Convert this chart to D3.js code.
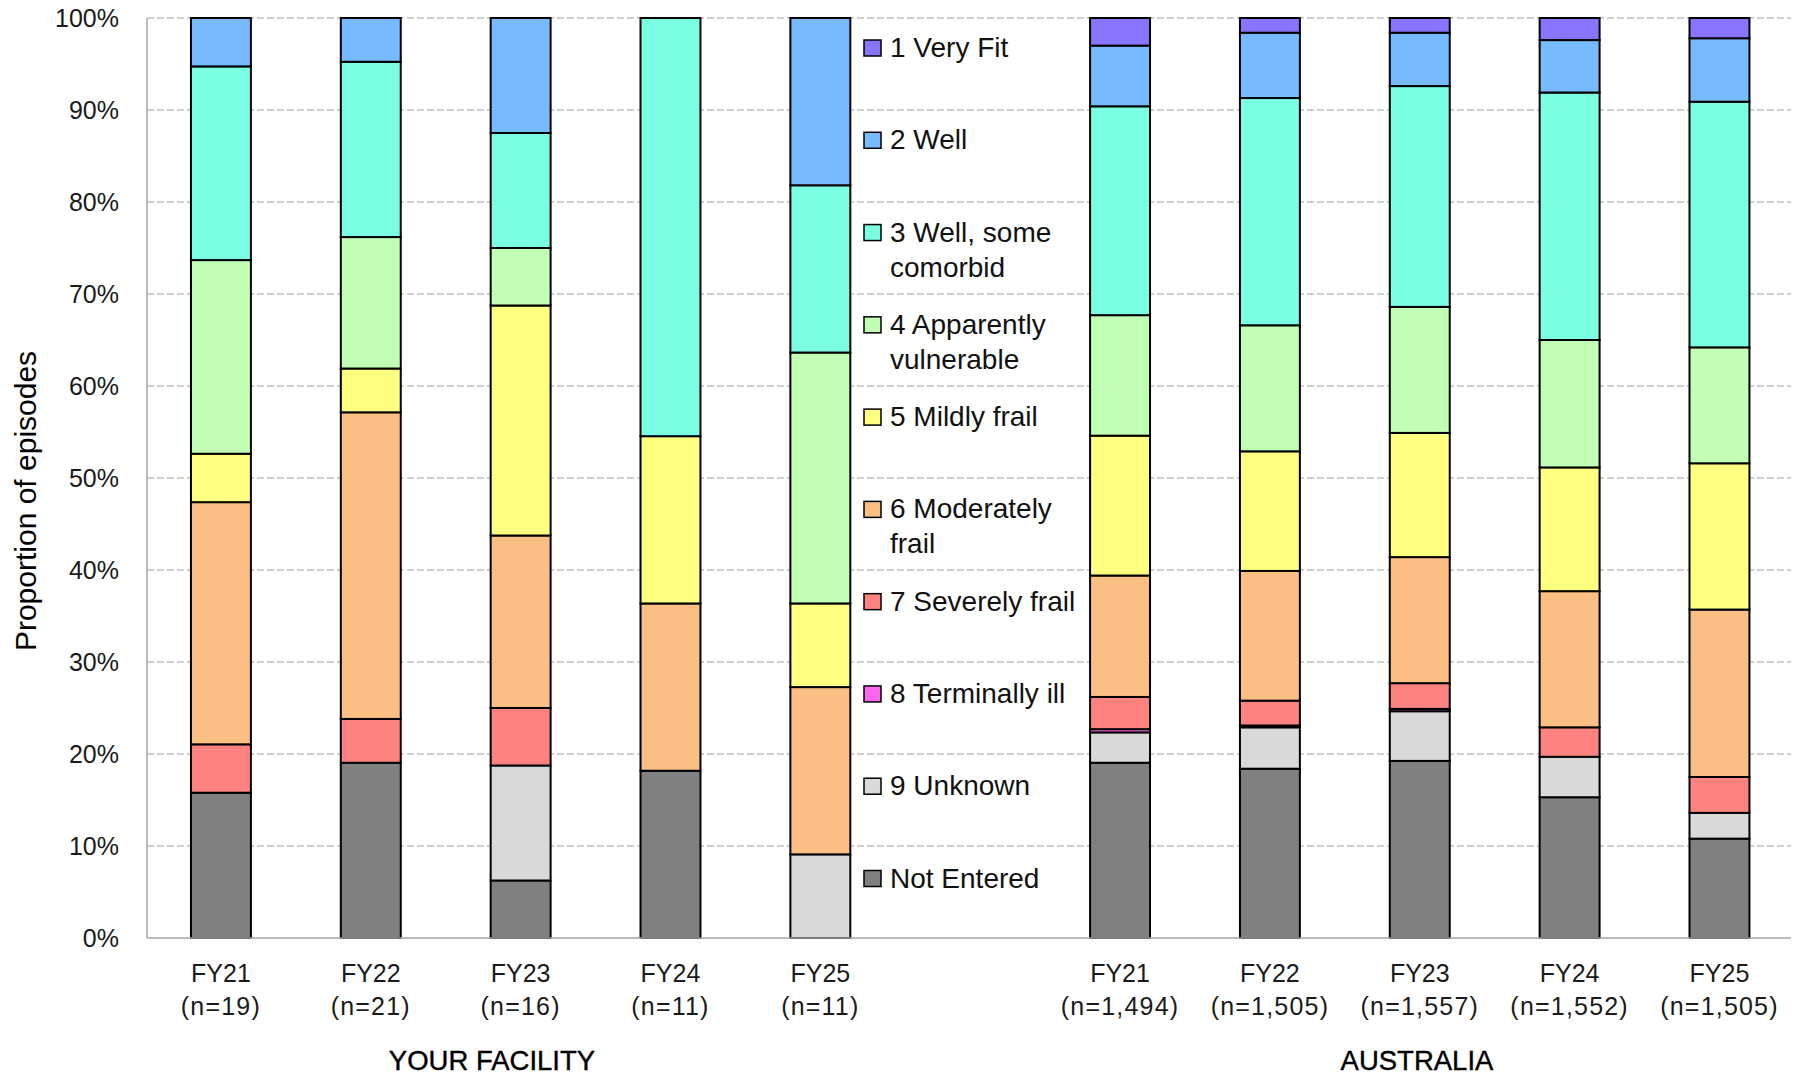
<!DOCTYPE html>
<html>
<head>
<meta charset="utf-8">
<script src="https://cdn.jsdelivr.net/npm/d3@7"></script>
<style>
  html, body { margin: 0; padding: 0; background: #fff; }
  svg { display: block; font-family: "Century Gothic", "Liberation Sans", Arial, sans-serif; }
</style>
</head>
<body>
<svg id="chart" width="1800" height="1077"></svg>
<script>
// ---------- DATA ----------
const categories = ["F-FY21", "F-FY22", "F-FY23", "F-FY24", "F-FY25", "gap",
                    "A-FY21", "A-FY22", "A-FY23", "A-FY24", "A-FY25"];
const yearLabels = ["FY21", "FY22", "FY23", "FY24", "FY25", "",
                    "FY21", "FY22", "FY23", "FY24", "FY25"];
const nLabels = ["(n=19)", "(n=21)", "(n=16)", "(n=11)", "(n=11)", "",
                 "(n=1,494)", "(n=1,505)", "(n=1,557)", "(n=1,552)", "(n=1,505)"];
const groupLabels = ["YOUR FACILITY", "AUSTRALIA"];

// series, bottom to top; values ordered as categories (gap = 0)
const seriesKeys = ["Not Entered", "9 Unknown", "8 Terminally ill", "7 Severely frail",
                    "6 Moderately frail", "5 Mildly frail", "4 Apparently vulnerable",
                    "3 Well, some comorbid", "2 Well", "1 Very Fit"];
const notEntered = [15.79, 19.05, 6.25, 18.18, 0,     0, 19.05, 18.4, 19.25, 15.3, 10.8];
const unknown    = [0,     0,     12.5, 0,     9.09,  0, 3.3,   4.5,  5.4,   4.4,  2.8];
const terminal   = [0,     0,     0,    0,     0,     0, 0.35,  0.2,  0.25,  0,    0];
const severe     = [5.26,  4.76,  6.25, 0,     0,     0, 3.5,   2.7,  2.8,   3.2,  3.9];
const moderate   = [26.32, 33.33, 18.75, 18.18, 18.18, 0, 13.2, 14.1, 13.7,  14.8, 18.2];
const mild       = [5.26,  4.76,  25,   18.18, 9.09,  0, 15.2,  13.0, 13.5,  13.45, 15.9];
const apparent   = [21.05, 14.29, 6.25, 0,     27.27, 0, 13.1,  13.7, 13.7,  13.85, 12.6];
const wellSome   = [21.05, 19.05, 12.5, 45.45, 18.18, 0, 22.7,  24.7, 24.0,  26.9, 26.7];
const well       = [5.26,  4.76,  12.5, 0,     18.18, 0, 6.6,   7.1,  5.8,   5.7,  6.9];
const veryFit    = [0,     0,     0,    0,     0,     0, 3.0,   1.6,  1.6,   2.4,  2.2];
const seriesValues = [notEntered, unknown, terminal, severe, moderate, mild, apparent, wellSome, well, veryFit];
const seriesColors = ["#808080", "#d9d9d9", "#ff66f0", "#fd8280", "#fbbf84",
                      "#ffff80", "#c1ffb4", "#7affe3", "#76baff", "#8875ff"];
const legendLines = [["1 Very Fit"], ["2 Well"], ["3 Well, some", "comorbid"],
                     ["4 Apparently", "vulnerable"], ["5 Mildly frail"],
                     ["6 Moderately", "frail"], ["7 Severely frail"],
                     ["8 Terminally ill"], ["9 Unknown"], ["Not Entered"]];
const legendColors = ["#8875ff", "#76baff", "#7affe3", "#c1ffb4", "#ffff80",
                      "#fbbf84", "#fd8280", "#ff66f0", "#d9d9d9", "#808080"];
const yTicks = [0, 0.1, 0.2, 0.3, 0.4, 0.5, 0.6, 0.7, 0.8, 0.9, 1.0];

// ---------- BUILD TABLE ----------
const table = categories.map((c, i) => {
  const row = { cat: c };
  seriesKeys.forEach((k, j) => { row[k] = seriesValues[j][i]; });
  return row;
});
const realRows = table.filter(r => r.cat !== "gap");

// ---------- LAYOUT ----------
const svg = d3.select("#chart");
const plotLeft = 147, plotRight = 1791, plotTop = 18, plotBottom = 938;

const x = d3.scaleBand().domain(categories).range([146, 1794.4])
  .paddingInner(0.6).paddingOuter(0.3);
const y = d3.scaleLinear().domain([0, 1]).range([plotBottom, plotTop]);

// gridlines
svg.append("g").selectAll("line").data(yTicks.filter(t => t > 0)).join("line")
  .attr("x1", plotLeft).attr("x2", plotRight)
  .attr("y1", d => y(d)).attr("y2", d => y(d))
  .attr("stroke", "#c0c0c0").attr("stroke-width", 1.4)
  .attr("stroke-dasharray", "7,3");

// y axis labels
const yAxis = d3.axisLeft(y).tickValues(yTicks).tickFormat(d3.format(".0%"))
  .tickSize(0).tickPadding(28);
const yg = svg.append("g").attr("transform", `translate(${plotLeft},0)`).call(yAxis);
yg.select(".domain").remove();
yg.selectAll("text").attr("font-size", 25).attr("fill", "#1a1a1a")
  .attr("font-family", "'Century Gothic','Liberation Sans',Arial,sans-serif")
  .attr("dy", "0.34em");

// axis lines
svg.append("line").attr("x1", plotLeft).attr("x2", plotLeft)
  .attr("y1", plotTop).attr("y2", plotBottom)
  .attr("stroke", "#a6a6a6").attr("stroke-width", 1.5);

// stacked bars
const stack = d3.stack().keys(seriesKeys).offset(d3.stackOffsetExpand);
const stacked = stack(realRows);
const layers = svg.append("g").selectAll("g").data(stacked).join("g")
  .attr("fill", (d, i) => seriesColors[i]);
layers.selectAll("rect").data(d => d.filter(s => s[1] - s[0] > 0)).join("rect")
  .attr("x", d => x(d.data.cat))
  .attr("width", x.bandwidth())
  .attr("y", d => y(d[1]))
  .attr("height", d => y(d[0]) - y(d[1]))
  .attr("stroke", "#000").attr("stroke-width", 2);

svg.append("line").attr("x1", plotLeft).attr("x2", plotRight)
  .attr("y1", plotBottom).attr("y2", plotBottom)
  .attr("stroke", "#a6a6a6").attr("stroke-width", 1.5);

// x labels
const xl = svg.append("g").attr("font-size", 25).attr("fill", "#1a1a1a").attr("text-anchor", "middle");
xl.selectAll("text.yr").data(categories.filter(c => c !== "gap")).join("text")
  .attr("class", "yr")
  .attr("x", d => x(d) + x.bandwidth() / 2).attr("y", 982)
  .text(d => yearLabels[categories.indexOf(d)]);
xl.selectAll("text.n").data(categories.filter(c => c !== "gap")).join("text")
  .attr("class", "n")
  .attr("x", d => x(d) + x.bandwidth() / 2).attr("y", 1015)
  .attr("letter-spacing", 1.2)
  .text(d => nLabels[categories.indexOf(d)]);

// group labels
const groupCenters = [492, 1417];
svg.append("g").attr("font-size", 27.5).attr("fill", "#000").attr("text-anchor", "middle")
  .attr("stroke", "#000").attr("stroke-width", 0.4)
  .selectAll("text").data(groupLabels).join("text")
  .attr("x", (d, i) => groupCenters[i]).attr("y", 1070)
  .text(d => d);

// y title
svg.append("text")
  .attr("transform", "translate(36,501) rotate(-90)")
  .attr("text-anchor", "middle").attr("font-size", 30).attr("fill", "#000")
  .text("Proportion of episodes");

// legend
const lg = svg.append("g");
const legendY = d3.scaleLinear().domain([0, 9]).range([48, 878.5]);
const items = lg.selectAll("g").data(legendLines).join("g")
  .attr("transform", (d, i) => `translate(864,${legendY(i)})`);
items.append("rect").attr("x", 0).attr("y", -8).attr("width", 17).attr("height", 16)
  .attr("fill", (d, i) => legendColors[i]).attr("stroke", "#000").attr("stroke-width", 1.5);
items.each(function(d) {
  const g = d3.select(this);
  d.forEach((line, k) => {
    g.append("text").attr("x", 26).attr("y", 9 + k * 35)
      .attr("font-size", 28).attr("fill", "#111").text(line);
  });
});
</script>
</body>
</html>
